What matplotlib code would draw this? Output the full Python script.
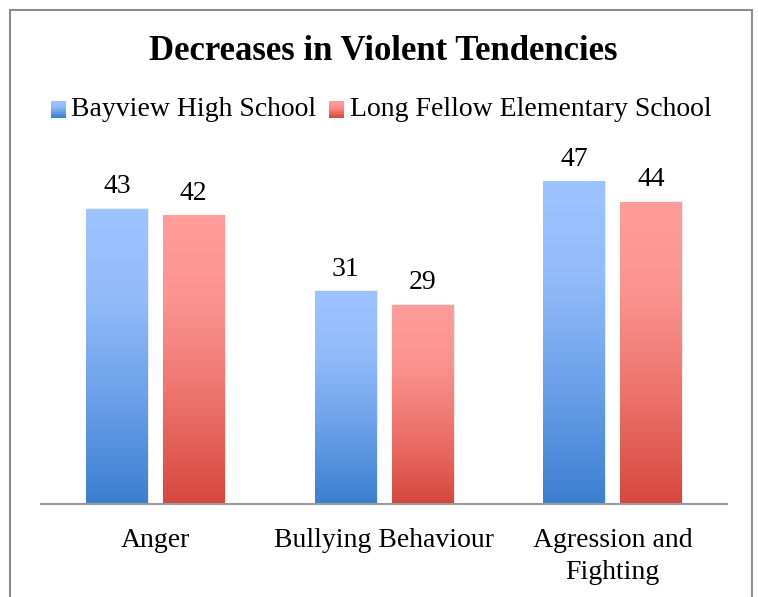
import numpy as np
import matplotlib
matplotlib.use('Agg')
import matplotlib.pyplot as plt
from matplotlib.patches import Rectangle
from matplotlib.colors import LinearSegmentedColormap
from matplotlib.legend_handler import HandlerBase

# data
categories = ['Anger', 'Bullying Behaviour', 'Agression and\nFighting']
series_names = ['Bayview High School', 'Long Fellow Elementary School']
bayview = [43, 31, 47]
longfellow = [42, 29, 44]

plt.rcParams['font.family'] = ['Liberation Serif', 'DejaVu Serif']

blue_cm = LinearSegmentedColormap.from_list(
    'b', [(0, '#3a7fd0'), (0.35, '#6a9fe8'), (0.7, '#92bbfa'), (1, '#9dc4ff')])
red_cm = LinearSegmentedColormap.from_list(
    'r', [(0, '#d6483d'), (0.35, '#ec716a'), (0.7, '#fb9390'), (1, '#ff9d9b')])

fig = plt.figure(figsize=(7.58, 5.97), dpi=100)
ax = fig.add_axes([41 / 758, 93 / 597, 686 / 758, 343 / 597])

x = np.arange(len(categories))
w = 0.27
off = 0.168
grad = np.linspace(0, 1, 256).reshape(-1, 1)

for vals, cm, dx in [(bayview, blue_cm, -off), (longfellow, red_cm, off)]:
    bars = ax.bar(x + dx, vals, w, color='none', edgecolor='none')
    for b, v in zip(bars, vals):
        x0 = b.get_x()
        # soft shadow
        ax.add_patch(Rectangle((x0 + 0.006, 0), w, v + 0.15, color='#000000', alpha=0.08, lw=0, zorder=1))
        ax.imshow(grad, cmap=cm, extent=[x0, x0 + w, 0, v], aspect='auto', origin='lower', zorder=2)
        ax.annotate(str(v), (x0 + w / 2, v), xytext=(0, 7), textcoords='offset points',
                    ha='center', va='bottom', fontsize=20)

ax.set_xlim(-0.5, 2.5)
ax.set_ylim(0, 50)
for s in ['top', 'left', 'right']:
    ax.spines[s].set_visible(False)
ax.spines['bottom'].set_color('#9a9a9a')
ax.spines['bottom'].set_linewidth(1.5)
ax.spines['bottom'].set_zorder(3)
ax.set_yticks([])
ax.set_xticks(x)
ax.set_xticklabels(categories, fontsize=20, linespacing=1.4)
ax.tick_params(axis='x', length=0, pad=17)
ax.patch.set_visible(False)


class GradHandler(HandlerBase):
    def __init__(self, cm):
        super().__init__()
        self.cm = cm

    def create_artists(self, legend, orig, xd, yd, width, height, fontsize, trans):
        n = 12
        arts = []
        for i in range(n):
            arts.append(Rectangle((xd, yd + height * i / n), width, height / n + 0.3,
                                  color=self.cm(i / (n - 1)), lw=0, transform=trans))
        return arts


h1 = Rectangle((0, 0), 1, 1)
h2 = Rectangle((0, 0), 1, 1)
fig.legend([h1, h2], series_names, loc='center', bbox_to_anchor=(381 / 758, 1 - 110 / 597),
           ncol=2, frameon=False, fontsize=20, handlelength=0.55, handleheight=0.55,
           handletextpad=0.2, columnspacing=0.45,
           handler_map={h1: GradHandler(blue_cm), h2: GradHandler(red_cm)})

fig.text(383 / 758, 1 - 51 / 597, 'Decreases in Violent Tendencies', ha='center', va='center',
         fontsize=25, fontweight='bold')

fig.patches.append(Rectangle((10 / 758, -0.05), 742 / 758, 1.05 - 10 / 597, transform=fig.transFigure,
                             fill=False, edgecolor='#8c8c8c', lw=1.5))

fig.savefig('out.png', dpi=100)
